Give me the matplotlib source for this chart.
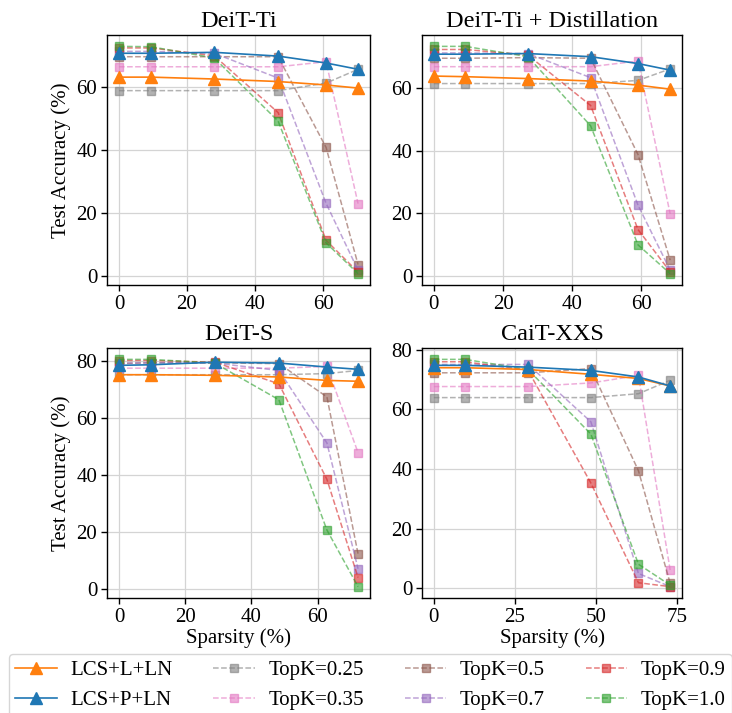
import matplotlib
matplotlib.use("Agg")
import matplotlib.pyplot as plt

plt.rcParams['font.family'] = ['Liberation Serif', 'DejaVu Serif']
plt.rcParams['mathtext.fontset'] = 'stix'

titles = ["DeiT-Ti", "DeiT-Ti + Distillation", "DeiT-S", "CaiT-XXS"]
series_labels = ["LCS+L+LN", "LCS+P+LN", "TopK=0.25", "TopK=0.35",
                 "TopK=0.5", "TopK=0.7", "TopK=0.9", "TopK=1.0"]

# sparsity (%) per panel
sparsity_ti = [0, 9.4, 28.0, 46.8, 60.9, 70.3]
sparsity_tid = [0, 9.1, 27.2, 45.3, 59.0, 68.3]
sparsity_s = [0, 9.7, 28.9, 48.3, 62.8, 72.2]
sparsity_cait = [0, 9.6, 29.1, 48.5, 63.2, 73.0]

# DeiT-Ti
ti_lcs_l = [63.2, 63.2, 62.6, 61.8, 60.7, 59.7]
ti_lcs_p = [70.8, 70.8, 71.1, 69.9, 67.7, 65.7]
ti_k025 = [58.9, 58.9, 58.9, 58.9, 61.3, 65.7]
ti_k035 = [66.5, 66.5, 66.5, 66.5, 68.1, 22.9]
ti_k05 = [69.7, 69.7, 69.7, 69.7, 40.8, 3.5]
ti_k07 = [71.4, 71.4, 70.8, 62.9, 23.0, 1.7]
ti_k09 = [72.5, 72.5, 70.0, 51.9, 11.2, 1.1]
ti_k10 = [73.0, 72.9, 69.3, 49.2, 10.4, 0.6]

# DeiT-Ti + Distillation
tid_lcs_l = [63.9, 63.7, 63.1, 62.3, 61.0, 59.7]
tid_lcs_p = [70.9, 70.9, 71.1, 70.1, 67.9, 65.8]
tid_k025 = [61.5, 61.5, 61.5, 61.5, 62.5, 66.2]
tid_k035 = [66.9, 66.9, 66.9, 66.9, 68.7, 19.8]
tid_k05 = [69.6, 69.6, 69.8, 69.6, 38.8, 5.0]
tid_k07 = [71.3, 71.3, 71.1, 63.4, 22.6, 1.8]
tid_k09 = [72.4, 72.4, 70.6, 54.5, 14.8, 1.3]
tid_k10 = [73.4, 73.4, 70.1, 48.0, 9.9, 0.7]

# DeiT-S
s_lcs_l = [75.2, 75.2, 75.0, 74.4, 73.2, 72.9]
s_lcs_p = [78.5, 78.7, 79.6, 79.3, 77.9, 77.1]
s_k025 = [75.2, 75.2, 75.2, 75.2, 75.6, 76.7]
s_k035 = [77.5, 77.5, 77.5, 77.5, 78.1, 47.8]
s_k05 = [79.1, 79.4, 79.4, 79.1, 67.4, 12.2]
s_k07 = [79.3, 79.4, 79.3, 76.7, 51.2, 7.0]
s_k09 = [80.2, 80.2, 79.6, 72.0, 38.4, 3.9]
s_k10 = [80.6, 80.6, 79.3, 66.4, 20.6, 0.7]

# CaiT-XXS
c_lcs_l = [73.9, 73.9, 73.3, 71.7, 70.3, 67.8]
c_lcs_p = [74.7, 74.7, 74.1, 73.0, 70.8, 67.8]
c_k025 = [63.9, 63.9, 63.9, 63.9, 65.2, 69.7]
c_k035 = [67.6, 67.6, 67.6, 68.8, 71.3, 6.1]
c_k05 = [72.2, 72.2, 72.2, 73.6, 39.4, 1.7]
c_k07 = [75.0, 75.0, 75.0, 55.8, 5.0, 0.6]
c_k09 = [75.9, 75.9, 73.0, 35.3, 1.9, 0.6]
c_k10 = [76.7, 76.7, 73.3, 51.7, 8.1, 1.1]

panels = [
    (sparsity_ti, [ti_lcs_l, ti_lcs_p, ti_k025, ti_k035, ti_k05, ti_k07, ti_k09, ti_k10]),
    (sparsity_tid, [tid_lcs_l, tid_lcs_p, tid_k025, tid_k035, tid_k05, tid_k07, tid_k09, tid_k10]),
    (sparsity_s, [s_lcs_l, s_lcs_p, s_k025, s_k035, s_k05, s_k07, s_k09, s_k10]),
    (sparsity_cait, [c_lcs_l, c_lcs_p, c_k025, c_k035, c_k05, c_k07, c_k09, c_k10]),
]

colors = ["#ff7f0e", "#1f77b4", "#7f7f7f", "#e377c2", "#8c564b", "#9467bd", "#d62728", "#2ca02c"]

fig = plt.figure(figsize=(7.32, 7.13), dpi=100)
W, H = 732.0, 713.0
rects = [
    (107, 35, 370, 285),
    (422, 35, 682, 285),
    (107, 348, 370, 598),
    (422, 348, 682, 598),
]
axes = []
for (l, t, r, b) in rects:
    ax = fig.add_axes([l / W, 1 - b / H, (r - l) / W, (b - t) / H])
    axes.append(ax)

handles = []
for i, (ax, (xs, ys)) in enumerate(zip(axes, panels)):
    ax.grid(True, color="#d4d4d4", linewidth=0.9)
    ax.set_axisbelow(True)
    hs = []
    for j, y in enumerate(ys):
        if j < 2:
            h, = ax.plot(xs, y, '-', marker='^', color=colors[j], markersize=9,
                         linewidth=1.2, label=series_labels[j], zorder=3)
        else:
            h, = ax.plot(xs, y, '--', marker='s', color=colors[j], markersize=6,
                         linewidth=1.1, alpha=0.6, label=series_labels[j], zorder=2)
        hs.append(h)
    if i == 0:
        handles = hs
    ax.set_title(titles[i], fontsize=17.5, pad=6)
    ax.tick_params(labelsize=15, direction='out', length=4, width=1, pad=3)
    for sp in ax.spines.values():
        sp.set_linewidth(1.0)
    if i in (0, 2):
        ax.set_ylabel("Test Accuracy (%)", fontsize=15, labelpad=4)
    if i in (2, 3):
        ax.set_xlabel("Sparsity (%)", fontsize=15, labelpad=1)

axes[0].set_yticks([0, 20, 40, 60])
axes[1].set_yticks([0, 20, 40, 60])
axes[2].set_yticks([0, 20, 40, 60, 80])
axes[3].set_yticks([0, 20, 40, 60, 80])
axes[0].set_xticks([0, 20, 40, 60])
axes[1].set_xticks([0, 20, 40, 60])
axes[2].set_xticks([0, 20, 40, 60])
axes[3].set_xticks([0, 25, 50, 75])

fig.legend(handles=handles, labels=series_labels, loc='upper left',
           bbox_to_anchor=(9 / W, 1 - 654 / H), ncol=4, fontsize=15,
           frameon=True, columnspacing=1.95, handlelength=2.0, handletextpad=0.65,
           borderpad=0.3, borderaxespad=0)

fig.savefig("out.png", dpi=100)
